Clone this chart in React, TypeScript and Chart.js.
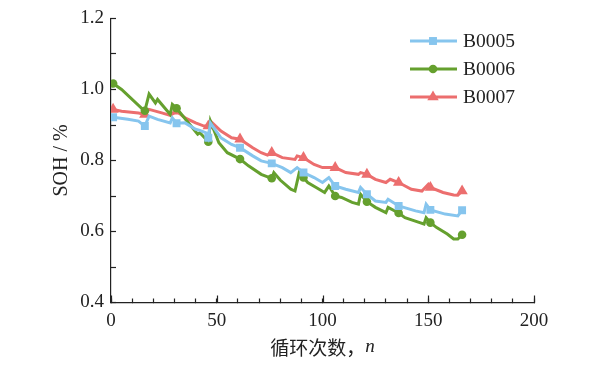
import React, { useEffect, useRef } from 'react';
import { Chart, registerables } from 'chart.js';

Chart.register(...registerables);

// ---- data ----
const seriesNames = ['B0005', 'B0006', 'B0007'];
const markerCycles = [1, 16, 31, 46, 61, 76, 91, 106, 121, 136, 151, 166];

const b5Cycles = [1, 8, 13, 16, 18, 22, 28, 29, 31, 35, 40, 42, 45, 46, 47, 52, 57, 61, 67, 71, 76, 81, 85, 88, 91, 96, 100, 103, 106, 111, 117, 118, 121, 125, 130, 131, 136, 144, 148, 149, 151, 158, 164, 166];
const b5Soh = [0.922, 0.916, 0.911, 0.897, 0.925, 0.916, 0.906, 0.92, 0.905, 0.906, 0.888, 0.885, 0.878, 0.864, 0.906, 0.864, 0.845, 0.836, 0.813, 0.799, 0.792, 0.78, 0.766, 0.78, 0.766, 0.752, 0.738, 0.752, 0.728, 0.719, 0.71, 0.724, 0.705, 0.686, 0.682, 0.691, 0.672, 0.658, 0.653, 0.677, 0.661, 0.649, 0.644, 0.66];

const b6Cycles = [1, 5, 15, 16, 18, 21, 22, 28, 29, 31, 41, 42, 46, 47, 51, 55, 61, 65, 71, 75, 76, 77, 80, 85, 87, 89, 91, 93, 97, 101, 103, 106, 109, 114, 117, 118, 121, 125, 130, 131, 136, 139, 146, 148, 149, 151, 154, 159, 162, 164, 166];
const b6Soh = [1.017, 1.0, 0.944, 0.94, 0.987, 0.962, 0.972, 0.93, 0.958, 0.947, 0.874, 0.878, 0.853, 0.911, 0.85, 0.822, 0.804, 0.785, 0.761, 0.752, 0.75, 0.766, 0.745, 0.719, 0.714, 0.766, 0.752, 0.738, 0.724, 0.71, 0.728, 0.7, 0.696, 0.682, 0.677, 0.705, 0.684, 0.668, 0.653, 0.668, 0.652, 0.639, 0.625, 0.621, 0.639, 0.625, 0.611, 0.593, 0.579, 0.579, 0.591];

const b7Cycles = [1, 5, 13, 16, 18, 24, 28, 31, 35, 40, 44, 46, 47, 52, 57, 61, 67, 71, 74, 76, 81, 87, 88, 91, 96, 100, 106, 111, 117, 118, 121, 125, 130, 132, 136, 142, 147, 150, 151, 157, 162, 164, 166];
const b7Soh = [0.944, 0.939, 0.934, 0.93, 0.944, 0.934, 0.927, 0.939, 0.92, 0.906, 0.897, 0.897, 0.911, 0.883, 0.864, 0.86, 0.836, 0.822, 0.815, 0.822, 0.808, 0.803, 0.813, 0.808, 0.789, 0.78, 0.78, 0.766, 0.761, 0.766, 0.761, 0.747, 0.738, 0.747, 0.738, 0.719, 0.714, 0.733, 0.724, 0.71, 0.703, 0.702, 0.714];

const xLabelEvery = 50;
const yTitle = 'SOH / %';
const xTitleMain = '循环次数，';
const xTitleVar = 'n';

const colors = ['#86C5EE', '#65A02E', '#EC6E6E'];
const pointStyles = ['rect', 'circle', 'triangle'];
const pointRadii = [5.6, 4.3, 6.6];

const SERIF = "'Liberation Serif', 'Times New Roman', serif";
const CJK = "'Noto Sans CJK SC', 'Liberation Serif', serif";

function drawMarker(ctx: CanvasRenderingContext2D, style: string, x: number, y: number, r: number, color: string) {
  ctx.save();
  ctx.fillStyle = color;
  ctx.beginPath();
  if (style === 'rect') {
    const s = Math.SQRT1_2 * r;
    ctx.rect(x - s, y - s, 2 * s, 2 * s);
  } else if (style === 'circle') {
    ctx.arc(x, y, r, 0, Math.PI * 2);
  } else {
    const a = -Math.PI / 2;
    for (let i = 0; i < 3; i++) {
      const ang = a + (i * 2 * Math.PI) / 3;
      const px = x + Math.cos(ang) * r;
      const py = y + Math.sin(ang) * r;
      if (i === 0) ctx.moveTo(px, py);
      else ctx.lineTo(px, py);
    }
    ctx.closePath();
  }
  ctx.fill();
  ctx.restore();
}

const extrasPlugin = {
  id: 'extras',
  afterDraw(chart: any) {
    const ctx: CanvasRenderingContext2D = chart.ctx;
    const xs = chart.scales.x;
    const area = chart.chartArea;
    ctx.save();
    // longer major ticks on x axis
    ctx.strokeStyle = '#222';
    ctx.lineWidth = 1.2;
    for (let v = xs.min; v <= xs.max; v += xLabelEvery) {
      const px = Math.round(xs.getPixelForValue(v)) + 0.5;
      ctx.beginPath();
      ctx.moveTo(px, area.bottom);
      ctx.lineTo(px, area.bottom - 7);
      ctx.stroke();
    }
    // x title
    ctx.fillStyle = '#222';
    ctx.textBaseline = 'middle';
    ctx.font = `19px ${CJK}`;
    const w1 = ctx.measureText(xTitleMain).width;
    ctx.font = `italic 19px ${SERIF}`;
    const w2 = ctx.measureText(xTitleVar).width;
    const cx = (area.left + area.right) / 2;
    const startX = cx - (w1 + w2) / 2;
    ctx.textAlign = 'left';
    ctx.font = `19px ${CJK}`;
    ctx.fillText(xTitleMain, startX, 348);
    ctx.font = `italic 19px ${SERIF}`;
    ctx.fillText(xTitleVar, startX + w1, 347);
    // legend
    const rows = [41, 69, 97];
    chart.data.datasets.forEach((ds: any, i: number) => {
      const y = rows[i];
      ctx.strokeStyle = colors[i];
      ctx.lineWidth = 3;
      ctx.beginPath();
      ctx.moveTo(410, y);
      ctx.lineTo(457, y);
      ctx.stroke();
      drawMarker(ctx, pointStyles[i], 433, y, pointRadii[i], colors[i]);
      ctx.fillStyle = '#222';
      ctx.font = `19.5px ${SERIF}`;
      ctx.textAlign = 'left';
      ctx.textBaseline = 'middle';
      ctx.fillText(ds.label, 463, y + 1);
    });
    ctx.restore();
  },
};

export default function App() {
  const ref = useRef<HTMLCanvasElement | null>(null);
  useEffect(() => {
    if (!ref.current) return;
    const mk = (cycles: number[], soh: number[]) => cycles.map((c, i) => ({ x: c, y: soh[i] }));
    const allData = [mk(b5Cycles, b5Soh), mk(b6Cycles, b6Soh), mk(b7Cycles, b7Soh)];
    const chart = new Chart(ref.current, {
      type: 'line',
      data: {
        datasets: seriesNames.map((name, i) => ({
          label: name,
          data: allData[i],
          borderColor: colors[i],
          backgroundColor: colors[i],
          borderWidth: 3,
          pointStyle: pointStyles[i] as any,
          pointRadius: (c: any) => (c.raw && markerCycles.includes(c.raw.x) ? pointRadii[i] : 0),
          pointBorderWidth: 0,
          pointHoverRadius: 0,
          tension: 0,
          fill: false,
        })),
      },
      options: {
        responsive: false,
        animation: false,
        layout: { padding: { left: 0, right: 56, top: 18.5, bottom: 0 } },
        plugins: {
          legend: { display: false },
          tooltip: { enabled: false },
        },
        scales: {
          x: {
            type: 'linear',
            min: 0,
            max: 200,
            afterFit: (s: any) => { s.height = 67.5; s.paddingLeft = 0; s.paddingRight = 0; },
            border: { display: true, color: '#222', width: 1.2 },
            grid: { display: true, drawOnChartArea: false, drawTicks: true, tickLength: -4, tickColor: '#222', tickWidth: 1.2 },
            ticks: {
              stepSize: 10,
              autoSkip: false,
              maxRotation: 0,
              padding: 11,
              color: '#222',
              font: { family: SERIF, size: 19 },
              callback: (v: any) => (Number(v) % xLabelEvery === 0 ? String(v) : ''),
            },
          },
          y: {
            type: 'linear',
            min: 0.4,
            max: 1.2,
            afterFit: (s: any) => { s.width = 111; s.paddingTop = 0; s.paddingBottom = 0; },
            border: { display: true, color: '#222', width: 1.2 },
            grid: { display: true, drawOnChartArea: false, drawTicks: true, tickLength: -5, tickColor: '#222', tickWidth: 1.2 },
            title: {
              display: true,
              text: yTitle,
              color: '#222',
              font: { family: SERIF, size: 20 },
              padding: { top: 50, bottom: 0 },
            },
            ticks: {
              stepSize: 0.1,
              autoSkip: false,
              padding: 12,
              color: '#222',
              font: { family: SERIF, size: 19 },
              callback: (v: any) => (Math.round(Number(v) * 10) % 2 === 0 ? Number(v).toFixed(1) : ''),
            },
          },
        },
      },
      plugins: [extrasPlugin],
    });
    return () => chart.destroy();
  }, []);
  return (
    <div style={{ position: 'fixed', left: 0, top: 0, width: 590, height: 370, background: '#fff' }}>
      <canvas ref={ref} width={590} height={370} />
    </div>
  );
}
